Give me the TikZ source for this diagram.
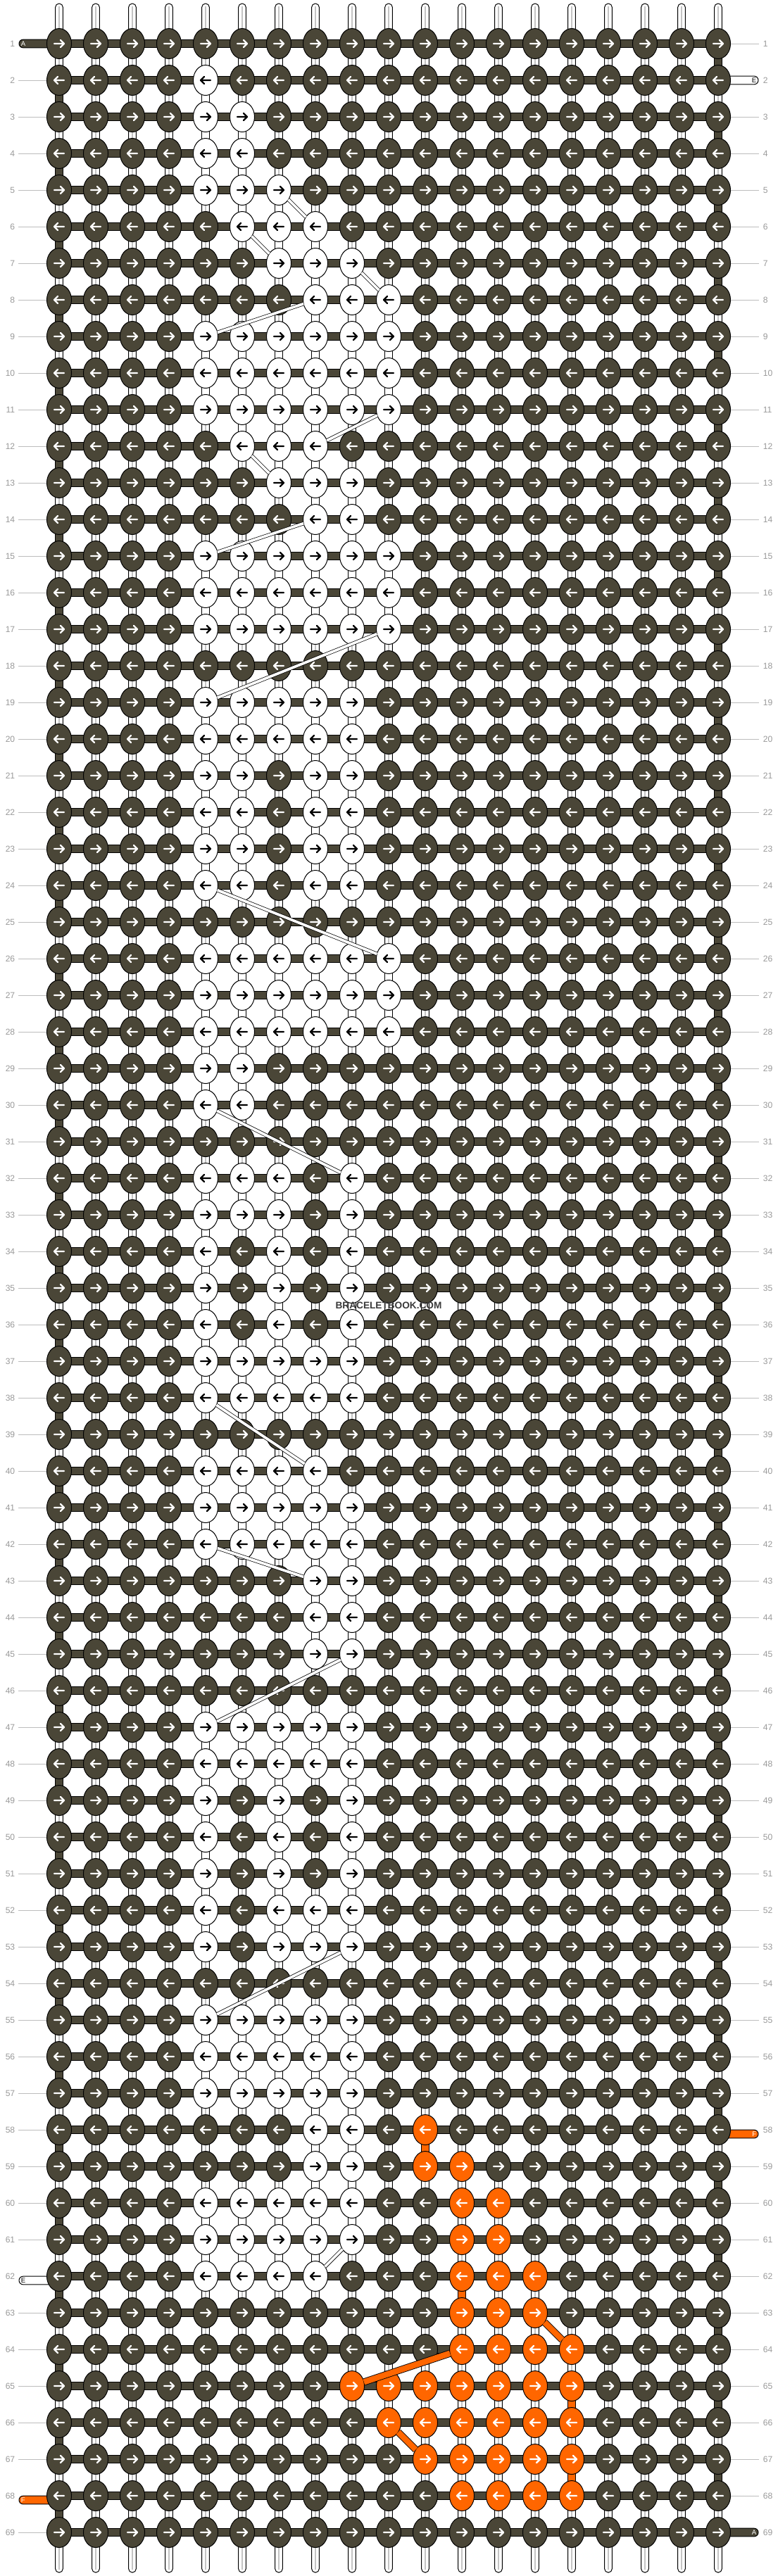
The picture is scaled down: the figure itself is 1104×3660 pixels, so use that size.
\documentclass[tikz,border=0pt]{standalone}
\usepackage{fontspec}
\setmainfont{Liberation Sans}
\usetikzlibrary{shapes.geometric}
\definecolor{dk}{HTML}{4A4637}
\definecolor{og}{HTML}{FF6600}
\definecolor{wt}{HTML}{FFFFFF}
\definecolor{lbl}{HTML}{9A9A9A}
\definecolor{lln}{HTML}{BDBDBD}
\definecolor{strp}{HTML}{C4C4C4}
\definecolor{wm}{HTML}{3A3A3A}
\newif\ifhit
\makeatletter
\def\setW#1#2{\expandafter\def\csname Wl@#1\endcsname{,#2,}}
\def\setO#1#2{\expandafter\def\csname Ol@#1\endcsname{,#2,}}
\def\setOV#1#2{\expandafter\def\csname OV@#1\endcsname{,#2,}}
\def\chk#1#2#3{\hitfalse
  \expandafter\ifx\csname #1@#2\endcsname\relax\else
    \edef\chk@tmp{\noexpand\in@{,#3,}{\csname #1@#2\endcsname}}\chk@tmp
    \ifin@\hittrue\fi
  \fi}
\makeatother
\def\wtname{wt}
\def\getkc#1#2{\def\kc{dk}\def\ac{white}%
  \chk{Wl}{#1}{#2}\ifhit\def\kc{wt}\def\ac{black}\fi
  \chk{Ol}{#1}{#2}\ifhit\def\kc{og}\def\ac{white}\fi}
% white knots
\setW{2}{5}\setW{3}{5,6}\setW{4}{5,6}\setW{5}{5,6,7}\setW{6}{6,7,8}
\setW{7}{7,8,9}\setW{8}{8,9,10}\setW{9}{5,6,7,8,9,10}\setW{10}{5,6,7,8,9,10}
\setW{11}{5,6,7,8,9,10}\setW{12}{6,7,8}\setW{13}{7,8,9}\setW{14}{8,9}
\setW{15}{5,6,7,8,9,10}\setW{16}{5,6,7,8,9,10}\setW{17}{5,6,7,8,9,10}
\setW{19}{5,6,7,8,9}\setW{20}{5,6,7,8,9}\setW{21}{5,6,8,9}\setW{22}{5,6,8,9}
\setW{23}{5,6,8,9}\setW{24}{5,6,8,9}\setW{26}{5,6,7,8,9,10}\setW{27}{5,6,7,8,9,10}
\setW{28}{5,6,7,8,9,10}\setW{29}{5,6}\setW{30}{5,6}\setW{32}{5,6,7,9}\setW{33}{5,6,7,9}
\setW{34}{5,7,9}\setW{35}{5,7,9}\setW{36}{5,7,9}\setW{37}{5,6,7,8,9}\setW{38}{5,6,7,8,9}
\setW{40}{5,6,7,8}\setW{41}{5,6,7,8,9}\setW{42}{5,6,7,8,9}\setW{43}{8,9}\setW{44}{8,9}
\setW{45}{8,9}\setW{47}{5,6,7,8,9}\setW{48}{5,6,7,8,9}\setW{49}{5,7,9}\setW{50}{5,7,9}
\setW{51}{5,7,9}\setW{52}{5,7,8,9}\setW{53}{5,7,8,9}\setW{55}{5,6,7,8,9}\setW{56}{5,6,7,8,9}
\setW{57}{5,6,7,8,9}\setW{58}{8,9}\setW{59}{8,9}\setW{60}{5,6,7,8,9}\setW{61}{5,6,7,8,9}
\setW{62}{5,6,7,8}
% orange knots
\setO{58}{11}\setO{59}{11,12}\setO{60}{12,13}\setO{61}{12,13}\setO{62}{12,13,14}
\setO{63}{12,13,14}\setO{64}{12,13,14,15}\setO{65}{9,10,11,12,13,14,15}
\setO{66}{10,11,12,13,14,15}\setO{67}{11,12,13,14,15}\setO{68}{12,13,14,15}
% orange vertical segments (upper row)
\setOV{58}{11}\setOV{62}{12}\setOV{65}{15}\setOV{67}{15}
\begin{document}
\begin{tikzpicture}[x=0.25mm,y=-0.25mm,
  knot/.style={ellipse,draw=black,line width=0.25mm,minimum width=8.75mm,minimum height=10.75mm,inner sep=0pt,outer sep=0pt},
  seg/.style={draw=black,line width=0.25mm},
  arr/.style={line width=0.6mm,line cap=round,line join=round},
  wband/.style={draw=black,line width=0.18mm,double=white,double distance=0.95mm},
  oband/.style={draw=black,line width=0.22mm,double=og,double distance=2.1mm},
  rowlbl/.style={text=lbl,font=\fontsize{8.6}{9}\selectfont,inner sep=0pt},
  lblline/.style={draw=lln,line width=0.25mm},
  taillbl/.style={font=\fontsize{6.8}{7}\selectfont,inner sep=0pt}]
\fill[white] (0,0) rectangle (1104,3660);
\useasboundingbox (0,0) rectangle (1104,3660);
% row numbers and leader lines
\foreach \r in {1,...,69}{
  \edef\Y{\the\numexpr52*\r+10\relax}
  \node[rowlbl,anchor=east] (ll\r) at (21.5,\Y) {\r};
  \node[rowlbl,anchor=west] (rl\r) at (1083.5,\Y) {\r};
  \ifnum\r=1 \else\ifnum\r=62 \else\ifnum\r=68 \else \draw[lblline] (26,\Y)--(66,\Y);\fi\fi\fi
  \ifnum\r=2 \else\ifnum\r=58 \else\ifnum\r=69 \else \draw[lblline] (1038,\Y)--(1078,\Y);\fi\fi\fi
}
% base strings
\foreach \c in {1,...,19}{
  \edef\X{\the\numexpr52*\c+32\relax}
  \filldraw[fill=white,seg,rounded corners=1.33mm] (\X-5.35,5) rectangle (\X+5.35,3655);
  \draw[strp,line width=0.45mm] (\X,9) -- (\X,3651);
}
% string tails
\filldraw[fill=dk,seg,rounded corners=1.46mm] (27,56.15) rectangle (84,67.85);
\filldraw[fill=white,seg,rounded corners=1.46mm] (27,3234.15) rectangle (84,3245.85);
\filldraw[fill=og,seg,rounded corners=1.46mm] (27,3546.15) rectangle (84,3557.85);
\filldraw[fill=white,seg,rounded corners=1.46mm] (1020,108.15) rectangle (1077,119.85);
\filldraw[fill=og,seg,rounded corners=1.46mm] (1020,3026.15) rectangle (1077,3037.85);
\filldraw[fill=dk,seg,rounded corners=1.46mm] (1020,3592.15) rectangle (1077,3603.85);
% horizontal working string
\foreach \r in {1,...,69}{
  \edef\Y{\the\numexpr52*\r+10\relax}
  \filldraw[fill=dk,seg] (84,\Y-5.85) rectangle (1020,\Y+5.85);
}
% special vertical segments
\foreach \r in {1,...,68}{
  \edef\Y{\the\numexpr52*\r+10\relax}\edef\Yn{\the\numexpr52*\r+62\relax}
  \edef\rn{\the\numexpr\r+1\relax}
  \foreach \c in {1,...,19}{
    \edef\X{\the\numexpr52*\c+32\relax}
    \getkc{\r}{\c}\let\kca\kc
    \getkc{\rn}{\c}\let\kcb\kc
    \def\vs{}%
    \ifodd\r \ifnum\c=19 \def\vs{dk}\fi \else \ifnum\c=1 \def\vs{dk}\fi \fi
    \chk{OV}{\r}{\c}\ifhit\def\vs{og}\fi
    \ifx\vs\empty \ifx\kca\wtname \ifx\kcb\wtname \def\vs{white}\fi\fi\fi
    \ifx\vs\empty\else
      \filldraw[fill=\vs,seg] (\X-5.35,\Y) rectangle (\X+5.35,\Yn);
    \fi
  }
}
% knots
\foreach \r in {1,...,69}{
  \edef\Y{\the\numexpr52*\r+10\relax}
  \foreach \c in {1,...,19}{
    \edef\X{\the\numexpr52*\c+32\relax}
    \getkc{\r}{\c}
    \node[knot,fill=\kc] (k-\r-\c) at (\X,\Y) {};
    \ifodd\r
      \draw[draw=\ac,arr] (\X-7,\Y) -- (\X+7,\Y) (\X+2,\Y-5) -- (\X+7,\Y) -- (\X+2,\Y+5);
    \else
      \draw[draw=\ac,arr] (\X+7,\Y) -- (\X-7,\Y) (\X-2,\Y-5) -- (\X-7,\Y) -- (\X-2,\Y+5);
    \fi
  }
}
% carried white string
\draw[wband] (k-5-7) -- (k-6-8);
\draw[wband] (k-6-6) -- (k-7-7);
\draw[wband] (k-7-9) -- (k-8-10);
\draw[wband] (k-8-8) -- (k-9-5);
\draw[wband] (k-11-10) -- (k-12-8);
\draw[wband] (k-12-6) -- (k-13-7);
\draw[wband] (k-14-8) -- (k-15-5);
\draw[wband] (k-17-10) -- (k-19-5);
\draw[wband] (k-24-5) -- (k-26-10);
\draw[wband] (k-30-5) -- (k-32-9);
\draw[wband] (k-38-5) -- (k-40-8);
\draw[wband] (k-42-5) -- (k-43-8);
\draw[wband] (k-45-9) -- (k-47-5);
\draw[wband] (k-53-9) -- (k-55-5);
\draw[wband] (k-61-9) -- (k-62-8);
% carried orange string
\draw[oband] (k-63-14) -- (k-64-15);
\draw[oband] (k-64-12) -- (k-65-9);
\draw[oband] (k-66-10) -- (k-67-11);
% tail letters
\node[taillbl,text=white,anchor=west] (tA1) at (29.5,62) {A};
\node[taillbl,text=black,anchor=west] (tE2) at (29.5,3240) {E};
\node[taillbl,text=white,anchor=west] (tF2) at (29.5,3552) {F};
\node[taillbl,text=black,anchor=east] (tE1) at (1074.5,114) {E};
\node[taillbl,text=white,anchor=east] (tF1) at (1074.5,3032) {F};
\node[taillbl,text=white,anchor=east] (tA2) at (1074.5,3598) {A};
% watermark
\node[text=wm,font=\bfseries\fontsize{9.7}{10}\selectfont,inner sep=0pt] (wm) at (552,1855) {BRACELETBOOK.COM};
\end{tikzpicture}
\end{document}
